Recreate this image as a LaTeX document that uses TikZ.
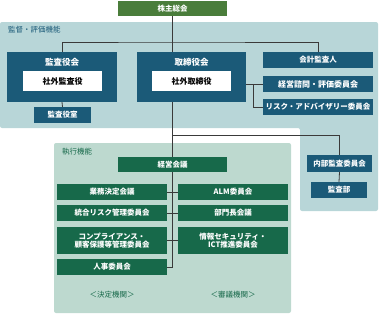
\documentclass[tikz,border=0pt]{standalone}
\usepackage{fontspec}
\newfontfamily\jp{Noto Sans CJK JP}
\usetikzlibrary{calc}
\definecolor{panelA}{HTML}{B8D6D8}
\definecolor{panelB}{HTML}{BDD9CF}
\definecolor{boxblue}{HTML}{1B5A78}
\definecolor{boxgreen}{HTML}{17694A}
\definecolor{topgreen}{HTML}{4A7D3B}
\definecolor{linegray}{HTML}{3A3A3A}
\pgfdeclarelayer{bg}
\pgfdeclarelayer{ln}
\pgfsetlayers{bg,ln,main}
\tikzset{
  box/.style={draw=none, inner sep=0pt, outer sep=0pt, text=white,
    font=\jp\bfseries\fontsize{7.5}{9}\selectfont, align=center},
  bluebox/.style={box, fill=boxblue},
  greenbox/.style={box, fill=boxgreen},
  whitebox/.style={box, fill=white, text=black, font=\jp\bfseries\fontsize{8}{9}\selectfont},
  conn/.style={draw=linegray, line width=0.8pt},
  plabel/.style={inner sep=0pt, font=\jp\fontsize{7.5}{9}\selectfont}
}
\begin{document}
\begin{tikzpicture}[x=1pt,y=-1pt]
\useasboundingbox (0,0) rectangle (380,317);
% panels
\begin{pgfonlayer}{bg}
\fill[panelA, rounded corners=2pt] (0,22) -- (378,22) -- (378,211) -- (300,211) -- (300,128) -- (0,128) -- cycle;
\fill[panelB, rounded corners=2pt] (54,143) rectangle (291,313);
\end{pgfonlayer}
\node[plabel, anchor=west, text=boxblue] (lkantoku) at (8,30) {監督・評価機能};
\node[plabel, anchor=west, text=boxgreen] (lshikko) at (62,152) {執行機能};
% top
\node[box, fill=topgreen, minimum width=109pt, minimum height=15pt] (kabu) at (172.5,8.5) {株主総会};
% kansayakukai
\node[bluebox, minimum width=110pt, minimum height=50pt] (kansa) at (62,77) {};
\node[box, font=\jp\bfseries\fontsize{8.5}{9}\selectfont] (kansat) at (62,62) {監査役会};
\node[whitebox, minimum width=79pt, minimum height=20pt] (shagaikansa) at (62.5,81) {社外監査役};
\node[bluebox, minimum width=57pt, minimum height=16pt] (kansashitsu) at (62.5,115) {監査役室};
% torishimariyakukai
\node[bluebox, minimum width=109pt, minimum height=50pt] (tori) at (191.5,77) {};
\node[box, font=\jp\bfseries\fontsize{8.5}{9}\selectfont] (torit) at (191.5,62) {取締役会};
\node[whitebox, minimum width=79pt, minimum height=20pt] (shagaitori) at (191.5,81) {社外取締役};
% right column
\node[bluebox, minimum width=110pt, minimum height=16pt] (kaikei) at (318,60) {会計監査人};
\node[bluebox, minimum width=110pt, minimum height=16pt, font=\jp\bfseries\fontsize{8}{9}\selectfont] (shimon) at (318,84) {経営諮問・評価委員会};
\node[bluebox, minimum width=110pt, minimum height=16pt] (risk) at (318,107) {リスク・アドバイザリー委員会};
\node[bluebox, minimum width=65pt, minimum height=17pt] (naibu) at (339.5,163.5) {内部監査委員会};
\node[bluebox, minimum width=56pt, minimum height=16pt] (kansabu) at (339,190) {監査部};
% executive
\node[greenbox, minimum width=109pt, minimum height=15pt] (keiei) at (172.5,164.5) {経営会議};
\node[greenbox, minimum width=110pt, minimum height=16pt] (gyomu) at (112,192) {業務決定会議};
\node[greenbox, minimum width=110pt, minimum height=16pt] (togo) at (112,213) {統合リスク管理委員会};
\node[greenbox, minimum width=110pt, minimum height=27pt, font=\jp\bfseries\fontsize{7.5}{8.5}\selectfont] (comp) at (112,240.5) {コンプライアンス・\\顧客保護等管理委員会};
\node[greenbox, minimum width=110pt, minimum height=16pt] (jinji) at (112,267) {人事委員会};
\node[greenbox, minimum width=110pt, minimum height=16pt] (alm) at (233,192) {ALM委員会};
\node[greenbox, minimum width=110pt, minimum height=16pt] (bumon) at (233,213) {部門長会議};
\node[greenbox, minimum width=110pt, minimum height=27pt, font=\jp\bfseries\fontsize{7.5}{8.5}\selectfont] (joho) at (233,240.5) {情報セキュリティ・\\ICT推進委員会};
\node[plabel, text=boxgreen] (kettei) at (112,295) {＜決定機関＞};
\node[plabel, text=boxgreen] (shingi) at (233,295) {＜審議機関＞};
% connectors
\coordinate (hl) at (173,42);
\coordinate (br) at (253,84);
\coordinate (hl2) at (173,135);
\begin{pgfonlayer}{ln}
\draw[conn] (kabu.south) -- (kabu.south |- tori.north);
\draw[conn] (kansa.north) |- (hl) -| (kaikei.north);
\draw[conn] (kansa.south) -- (kansashitsu.north);
\draw[conn] (tori.east |- shimon.west) -- (shimon.west);
\draw[conn] (br) |- (risk.west);
\draw[conn] (kabu.south |- tori.south) -- (kabu.south |- jinji.east) -- (jinji.east);
\draw[conn] (hl2) -| (naibu.north);
\draw[conn] (naibu.south) -- (kansabu.north);
\draw[conn] (gyomu.east) -- (alm.west);
\draw[conn] (togo.east) -- (bumon.west);
\draw[conn] (comp.east) -- (joho.west);
\end{pgfonlayer}
\end{tikzpicture}
\end{document}
